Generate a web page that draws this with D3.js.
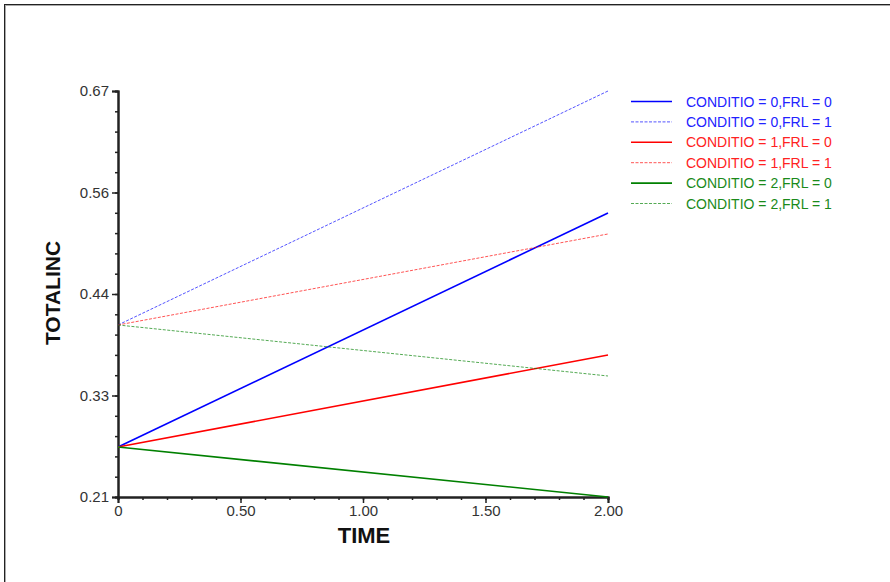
<!DOCTYPE html>
<html>
<head>
<meta charset="utf-8">
<script src="https://cdn.jsdelivr.net/npm/d3@7"></script>
<style>
  body { margin: 0; background: #fff; }
  svg { font-family: "Liberation Sans", Arial, sans-serif; }
</style>
</head>
<body>
<div class="chart"></div>
<script>
// === Data ===
const times = [0, 2];
const seriesNames = [
  "CONDITIO = 0,FRL = 0",
  "CONDITIO = 0,FRL = 1",
  "CONDITIO = 1,FRL = 0",
  "CONDITIO = 1,FRL = 1",
  "CONDITIO = 2,FRL = 0",
  "CONDITIO = 2,FRL = 1"
];
const c0f0 = [0.2666, 0.5318];
const c0f1 = [0.4049, 0.6700];
const c1f0 = [0.2666, 0.3709];
const c1f1 = [0.4049, 0.5080];
const c2f0 = [0.2666, 0.2100];
const c2f1 = [0.4049, 0.3471];
const seriesValues = [c0f0, c0f1, c1f0, c1f1, c2f0, c2f1];
const colors = ["#0000ff", "#0000ff", "#ff0000", "#ff0000", "#008000", "#008000"];
const textColors = ["#2222ff", "#2222ff", "#ff2222", "#ff2222", "#1a8a1a", "#1a8a1a"];
const dashed = [false, true, false, true, false, true];
const xTicks = [0, 0.5, 1, 1.5, 2];
const xTickLabels = ["0", "0.50", "1.00", "1.50", "2.00"];
const yTicks = [0.21, 0.325, 0.44, 0.555, 0.67];
const yTickLabels = ["0.21", "0.33", "0.44", "0.56", "0.67"];

// Chart init
const W = 890, H = 582;
const margin = {top: 91, left: 118};
const width = 608 - 118;
const height = 497 - 91;

const root = d3.select(".chart").append("svg")
  .attr("width", W)
  .attr("height", H);

// frame
root.append("rect").attr("x", 5.5).attr("y", 5.5).attr("width", W).attr("height", H)
  .attr("fill", "none").attr("stroke", "#aaa");
root.append("rect").attr("x", 4.5).attr("y", 4.5).attr("width", W).attr("height", H)
  .attr("fill", "none").attr("stroke", "#222");

const svg = root.append("g")
  .attr("transform", "translate(" + margin.left + "," + margin.top + ")");

const xScale = d3.scaleLinear().domain([0, 2]).range([0, width]);
const yScale = d3.scaleLinear().domain([0.21, 0.67]).range([height, 0]);

// minor ticks (5 subdivisions)
const xMinor = d3.range(0, 21).map(i => i * 0.1);
const yMinor = d3.range(0, 21).map(i => 0.21 + i * 0.023);

const xAxisMinor = d3.axisBottom(xScale).tickValues(xMinor).tickSize(3).tickFormat("");
const xAxis = d3.axisBottom(xScale).tickValues(xTicks).tickSize(6)
  .tickFormat((d, i) => xTickLabels[i]);
const yAxisMinor = d3.axisLeft(yScale).tickValues(yMinor).tickSize(3).tickFormat("");
const yAxis = d3.axisLeft(yScale).tickValues(yTicks).tickSize(6)
  .tickFormat((d, i) => yTickLabels[i]);

function styleAxis(g) {
  g.attr("font-size", 15).attr("font-family", "Liberation Sans, Arial, sans-serif");
  g.select(".domain").attr("stroke", "#222").attr("stroke-width", 2);
  g.selectAll(".tick line").attr("stroke", "#222").attr("stroke-width", 1.5);
  g.selectAll(".tick text").attr("fill", "#333");
}

svg.append("g").attr("transform", "translate(0," + height + ")").call(xAxisMinor).call(styleAxis);
svg.append("g").attr("transform", "translate(0," + height + ")").call(xAxis).call(styleAxis)
  .selectAll(".tick text").attr("dy", "0.66em");
svg.append("g").call(yAxisMinor).call(styleAxis);
svg.append("g").call(yAxis).call(styleAxis);

// lines
const line = d3.line()
  .x((d, i) => xScale(times[i]))
  .y(d => yScale(d));

seriesValues.forEach((vals, i) => {
  svg.append("path")
    .datum(vals)
    .attr("fill", "none")
    .attr("stroke", colors[i])
    .attr("stroke-width", dashed[i] ? 0.9 : 1.6)
    .attr("stroke-opacity", dashed[i] ? 0.75 : 1)
    .attr("stroke-dasharray", dashed[i] ? "3,1.5" : null)
    .attr("d", line);
});

// axis titles
root.append("text")
  .attr("transform", "translate(60,293) rotate(-90)")
  .attr("text-anchor", "middle")
  .attr("font-weight", "bold")
  .attr("font-size", "21px")
  .attr("fill", "#111")
  .text("TOTALINC");

root.append("text")
  .attr("x", 364).attr("y", 543)
  .attr("text-anchor", "middle")
  .attr("font-weight", "bold")
  .attr("font-size", "22px")
  .attr("fill", "#111")
  .text("TIME");

// legend
const legend = root.append("g").attr("transform", "translate(631,101)");
seriesNames.forEach((name, i) => {
  const g = legend.append("g").attr("transform", "translate(0," + (i * 20.4) + ")");
  g.append("line")
    .attr("x1", 0).attr("x2", 41).attr("y1", 0.5).attr("y2", 0.5)
    .attr("stroke", colors[i])
    .attr("stroke-width", dashed[i] ? 0.9 : 1.6)
    .attr("stroke-opacity", dashed[i] ? 0.75 : 1)
    .attr("stroke-dasharray", dashed[i] ? "3,1.5" : null);
  g.append("text")
    .attr("x", 55).attr("y", 5.5)
    .attr("font-size", "14px")
    .attr("fill", textColors[i])
    .text(name);
});
</script>
</body>
</html>
